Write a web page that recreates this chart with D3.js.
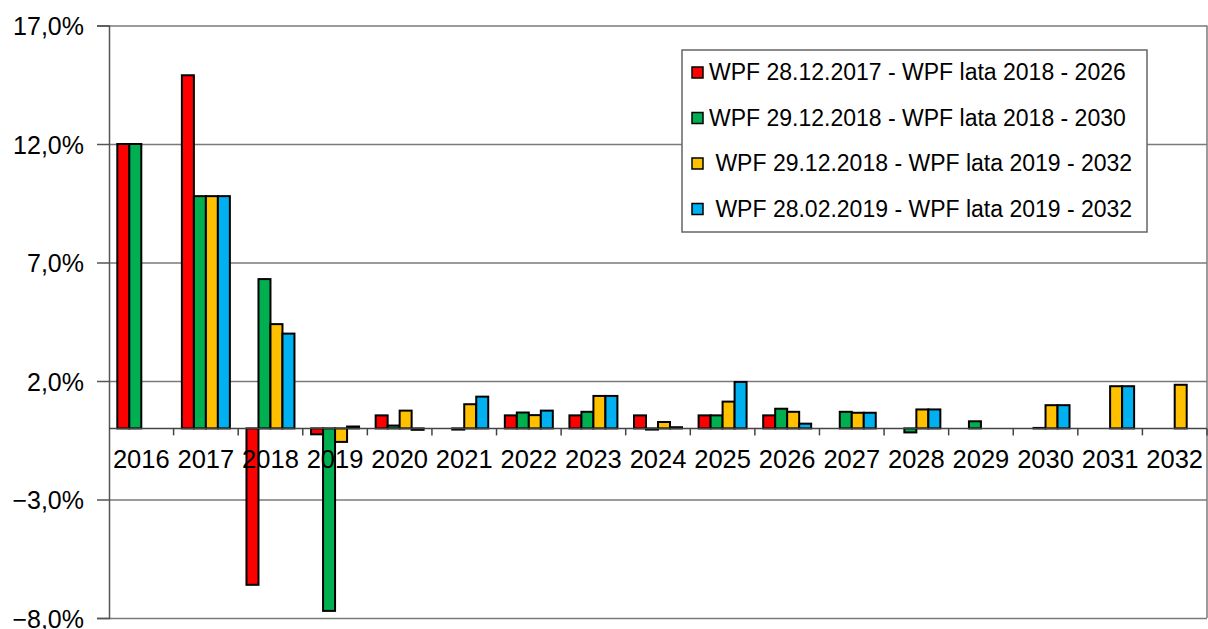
<!DOCTYPE html>
<html>
<head>
<meta charset="utf-8">
<script src="https://cdn.jsdelivr.net/npm/d3@7"></script>
<style>
  body { margin: 0; background: #fff; }
  svg { font-family: "Liberation Sans", Arial, sans-serif; }
  .grid line { stroke: #7a7a7a; stroke-width: 1.5; }
  .grid path { display: none; }
  text { white-space: pre; }
</style>
</head>
<body>
<svg width="1208" height="629"></svg>
<script>
const years = ["2016", "2017", "2018", "2019", "2020", "2021", "2022", "2023", "2024",
  "2025", "2026", "2027", "2028", "2029", "2030", "2031", "2032"];

const seriesNames = [
  "WPF 28.12.2017 - WPF lata 2018 - 2026",
  "WPF 29.12.2018 - WPF lata 2018 - 2030",
  " WPF 29.12.2018 - WPF lata 2019 - 2032",
  " WPF 28.02.2019 - WPF lata 2019 - 2032"
];
const colors = ["#ff0000", "#00b050", "#ffc000", "#00b0f0"];

// values in %, null = no bar
const wpf2017 = [12.0, 14.9, -6.6, -0.25, 0.55, null, 0.55, 0.55, 0.55, 0.55, 0.55,
  null, null, null, null, null, null];
const wpf2018a = [12.0, 9.8, 6.3, -7.7, 0.12, -0.05, 0.67, 0.7, -0.05, 0.55, 0.83,
  0.7, -0.17, 0.3, 0.02, null, null];
const wpf2018b = [null, 9.8, 4.4, -0.57, 0.75, 1.02, 0.56, 1.37, 0.27, 1.13, 0.7,
  0.66, 0.8, null, 0.98, 1.78, 1.84];
const wpf2019 = [null, 9.8, 4.0, 0.08, -0.06, 1.34, 0.75, 1.37, 0.05, 1.96, 0.2,
  0.66, 0.8, null, 0.98, 1.78, null];

const yTicks = [-8, -3, 2, 7, 12, 17];

const series = [wpf2017, wpf2018a, wpf2018b, wpf2019];

const pLeft = 109, pRight = 1207, pTop = 25.5, pBottom = 618;

const svg = d3.select("svg");

const x = d3.scaleBand().domain(years).range([pLeft, pRight]).padding(0);
const inner = d3.scaleBand()
  .domain(d3.range(4))
  .range([8.3, x.bandwidth() - 8.3]);
const y = d3.scaleLinear().domain([-8, 17]).range([pBottom, pTop]);

const fmt = v => d3.format(".1f")(v).replace(".", ",") + "%";

// gridlines
svg.append("g")
  .attr("class", "grid")
  .attr("transform", `translate(${pLeft},0)`)
  .call(d3.axisLeft(y).tickValues(yTicks).tickSize(-(pRight - pLeft)).tickFormat(""));

// y axis
const yAxis = svg.append("g")
  .attr("transform", `translate(${pLeft},0)`)
  .call(d3.axisLeft(y).tickValues(yTicks).tickSize(12).tickPadding(13).tickFormat(fmt));
yAxis.select(".domain").attr("stroke", "#555").attr("stroke-width", 1.5);
yAxis.selectAll(".tick line").attr("stroke", "#555").attr("stroke-width", 1.5);
yAxis.selectAll("text")
  .attr("font-size", 25)
  .attr("fill", "#000")
  .attr("dy", "0.36em");

// right border
svg.append("line")
  .attr("x1", pRight).attr("x2", pRight)
  .attr("y1", pTop).attr("y2", pBottom)
  .attr("stroke", "#7a7a7a").attr("stroke-width", 1.5);

// bars
series.forEach((vals, si) => {
  svg.append("g")
    .selectAll("rect")
    .data(years.map((yr, i) => ({ yr, v: vals[i] })).filter(d => d.v !== null))
    .enter()
    .append("rect")
    .attr("x", d => x(d.yr) + inner(si))
    .attr("width", inner.bandwidth())
    .attr("y", d => y(Math.max(d.v, 0)))
    .attr("height", d => Math.max(Math.abs(y(d.v) - y(0)), 0.5))
    .attr("fill", colors[si])
    .attr("stroke", "#000")
    .attr("stroke-width", 2);
});

// x axis at zero
const xAxis = svg.append("g")
  .attr("transform", `translate(0,${y(0)})`);
xAxis.append("line")
  .attr("x1", pLeft).attr("x2", pRight)
  .attr("stroke", "#444").attr("stroke-width", 1.5);
xAxis.selectAll(".tk")
  .data(years)
  .enter()
  .append("line")
  .attr("x1", d => x(d) + x.bandwidth())
  .attr("x2", d => x(d) + x.bandwidth())
  .attr("y1", 0).attr("y2", 7)
  .attr("stroke", "#444").attr("stroke-width", 1.5);
xAxis.selectAll("text")
  .data(years)
  .enter()
  .append("text")
  .attr("x", d => x(d) + x.bandwidth() / 2)
  .attr("y", 40)
  .attr("text-anchor", "middle")
  .attr("font-size", 25.5)
  .text(d => d);

// legend
const legend = svg.append("g");
legend.append("rect")
  .attr("x", 682).attr("y", 50)
  .attr("width", 465).attr("height", 182)
  .attr("fill", "#fff")
  .attr("stroke", "#666").attr("stroke-width", 1.5);
const item = legend.selectAll(".item")
  .data(seriesNames)
  .enter()
  .append("g")
  .attr("transform", (d, i) => `translate(0,${80 + i * 45.5})`);
item.append("rect")
  .attr("x", 692).attr("y", -13)
  .attr("width", 11).attr("height", 11)
  .attr("fill", (d, i) => colors[i])
  .attr("stroke", "#000").attr("stroke-width", 1.5);
item.append("text")
  .attr("x", 709)
  .attr("font-size", 23)
  .text(d => d);
</script>
</body>
</html>
